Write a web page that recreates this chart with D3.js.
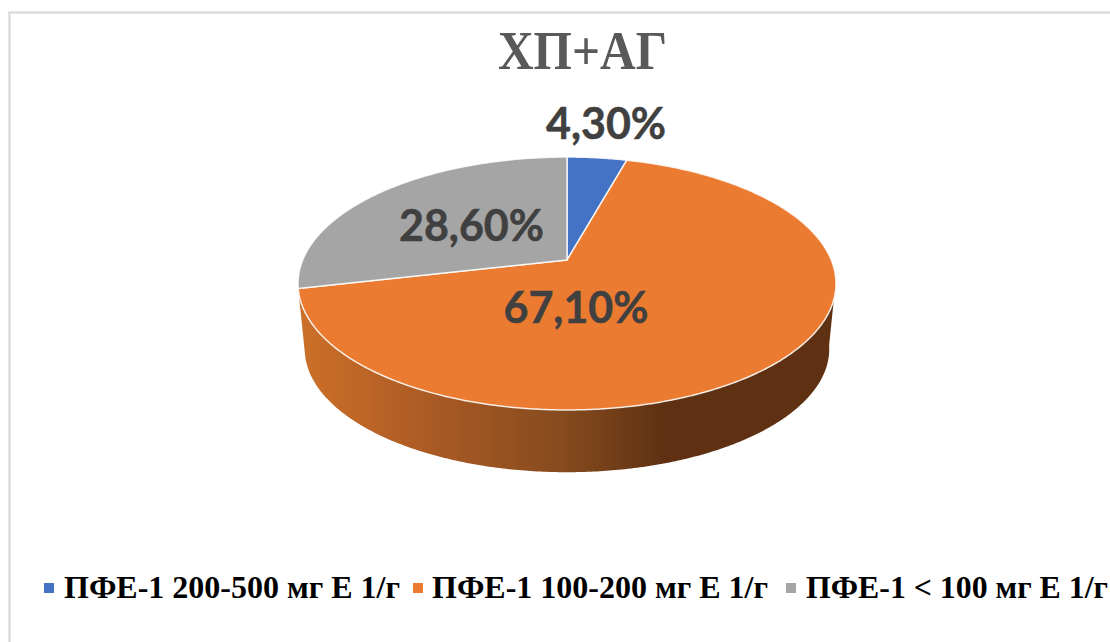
<!DOCTYPE html>
<html>
<head>
<meta charset="utf-8">
<script src="https://cdn.jsdelivr.net/npm/d3@7"></script>
<style>
  html, body { margin: 0; padding: 0; background: #fff; }
  svg { display: block; }
</style>
</head>
<body>
<svg id="chart" width="1110" height="642"></svg>
<script>
const chartTitle = "ХП+АГ";
const categories = ["ПФЕ-1 200-500 мг Е 1/г", "ПФЕ-1 100-200 мг Е 1/г", "ПФЕ-1 < 100 мг Е 1/г"];
const shares = [4.3, 67.1, 28.6];
const colors = ["#4472c4", "#eb7b31", "#a5a5a5"];

const svg = d3.select("#chart");

// Frame lines of the chart area
svg.append("line").attr("x1", 8).attr("x2", 1110).attr("y1", 12.5).attr("y2", 12.5)
  .attr("stroke", "#dcdcdc").attr("stroke-width", 2.5);
svg.append("line").attr("x1", 9.5).attr("x2", 9.5).attr("y1", 12).attr("y2", 642)
  .attr("stroke", "#dcdcdc").attr("stroke-width", 2.5);

// Perspective projection of the unit disc on to the tilted pie
const apex = { x: 567, y: 260 };
const tilt = 0.1858, scaleX = 264.3, scaleY = 122.1;
function project(theta, level) {
  const ux = Math.sin(theta), uy = -Math.cos(theta);
  const w = 1 - tilt * uy;
  const k = level ? 0.975 : 1;
  return [
    apex.x + k * scaleX * ux / w,
    apex.y + (level ? 66 : 0) + k * scaleY * uy / w
  ];
}
function rim(a0, a1, level) {
  const n = Math.max(2, Math.ceil(Math.abs(a1 - a0) / 0.01));
  return d3.range(n + 1).map(i => project(a0 + (a1 - a0) * i / n, level));
}
const line = d3.line();
const slices = d3.pie().sort(null).value(d => d)(shares);

// Side wall of the large slice: only the front part shows
const defs = svg.append("defs");
const wallFill = defs.append("linearGradient").attr("id", "wallFill")
  .attr("gradientUnits", "userSpaceOnUse")
  .attr("x1", 299).attr("x2", 836).attr("y1", 0).attr("y2", 0);
wallFill.selectAll("stop")
  .data([[0, "#cc7029"], [0.25, "#aa5a24"], [0.5, "#844a1e"], [0.68, "#5f3112"], [1, "#5f3112"]])
  .join("stop").attr("offset", d => d[0]).attr("stop-color", d => d[1]);

const wallStart = Math.PI * 2 * 0.714;
const wallEnd = Math.PI * 0.55;
const frontRim = rim(wallStart, wallEnd, false);
const backRim = rim(wallEnd, wallStart, true);
svg.append("path")
  .attr("d", line(frontRim.concat(backRim)) + "Z")
  .attr("fill", "url(#wallFill)");

// Top face of the pie
svg.append("g").selectAll("path")
  .data(slices)
  .join("path")
  .attr("d", d => line([[apex.x, apex.y]].concat(rim(d.startAngle, d.endAngle, false))) + "Z")
  .attr("fill", (d, i) => colors[i])
  .attr("stroke", "#fff")
  .attr("stroke-opacity", 0.85)
  .attr("stroke-width", 1.5)
  .attr("stroke-linejoin", "round");

// Title
svg.append("text")
  .attr("x", 498).attr("y", 69)
  .attr("textLength", 169)
  .attr("lengthAdjust", "spacingAndGlyphs")
  .attr("font-family", "'Liberation Serif', serif")
  .attr("font-weight", 700).attr("font-size", 54)
  .attr("fill", "#595959")
  .text(chartTitle);

// Value labels, with a decimal comma
const labelAnchors = [[606, 139], [576, 323], [471.5, 241]];
svg.append("g").selectAll("text")
  .data(shares)
  .join("text")
  .attr("x", (d, i) => labelAnchors[i][0])
  .attr("y", (d, i) => labelAnchors[i][1])
  .attr("text-anchor", "middle")
  .attr("font-family", "Lato, sans-serif")
  .attr("font-weight", 700).attr("font-size", 43)
  .attr("fill", "#404040")
  .attr("stroke", "#404040")
  .attr("stroke-width", 0.5)
  .text(d => d.toFixed(2).replace(".", ",") + "%");

// Legend
const legendKeys = [44, 413, 786];
const legendTextX = [64, 432, 806];
const legendTextW = [336, 336, 302];
const legend = svg.append("g");
legend.selectAll("rect")
  .data(categories)
  .join("rect")
  .attr("x", (d, i) => legendKeys[i]).attr("y", 583)
  .attr("width", 10).attr("height", 10)
  .attr("fill", (d, i) => colors[i]);
legend.selectAll("text")
  .data(categories)
  .join("text")
  .attr("x", (d, i) => legendTextX[i]).attr("y", 598)
  .attr("textLength", (d, i) => legendTextW[i])
  .attr("lengthAdjust", "spacingAndGlyphs")
  .attr("font-family", "'Liberation Serif', serif")
  .attr("font-weight", 700).attr("font-size", 32)
  .attr("fill", "#000")
  .text(d => d);
</script>
</body>
</html>
